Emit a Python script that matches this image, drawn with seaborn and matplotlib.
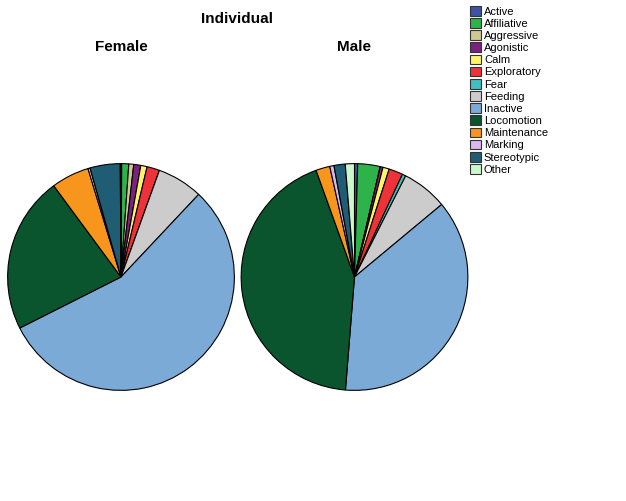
import numpy as np
import pandas as pd
import seaborn as sns
import matplotlib.pyplot as plt
from matplotlib.patches import Patch

sns.set_style("white")
plt.rcParams['font.family'] = ['Liberation Sans', 'DejaVu Sans']
plt.rcParams['text.color'] = 'black'

# behaviour categories (order of the legend / clockwise from 12 o'clock)
behaviours = ['Active', 'Affiliative', 'Aggressive', 'Agonistic', 'Calm', 'Exploratory',
              'Fear', 'Feeding', 'Inactive', 'Locomotion', 'Maintenance', 'Marking',
              'Stereotypic', 'Other']
# percent of time
female = [0.1, 1.0, 0.7, 1.0, 0.9, 1.8, 0.0, 6.5, 55.5, 22.3, 5.4, 0.3, 4.3, 0.1]
male = [0.45, 3.2, 0.0, 0.4, 0.9, 2.0, 0.5, 6.5, 37.3, 43.2, 2.0, 0.6, 1.6, 1.3]
hex_colors = ['#3F51A3', '#2DB34A', '#CFC892', '#7B2180', '#FFF36B', '#EE3239',
              '#3FBFBF', '#CCCCCC', '#7BAAD6', '#0A552D', '#F7951D', '#D9B8EC',
              '#1E5D73', '#CCF7CC']
palette = sns.color_palette(hex_colors)

df = pd.DataFrame({'behaviour': behaviours, 'Female': female, 'Male': male})

fig = plt.figure(figsize=(6.26, 5.01), dpi=100)

W, H = 626, 501
r = 114.5
centers = {'Female': (121, 277), 'Male': (354.5, 277)}
for sex, (cx, cy) in centers.items():
    ax = fig.add_axes([(cx - r) / W, (H - cy - r) / H, 2 * r / W, 2 * r / H])
    ax.pie(df[sex], colors=palette, startangle=90, counterclock=False, radius=1,
           wedgeprops=dict(edgecolor='black', linewidth=0.8))
    ax.set_xlim(-1.01, 1.01)
    ax.set_ylim(-1.01, 1.01)
    ax.set_aspect('equal')
    ax.axis('off')
    fig.text(cx / W, 1 - 47 / H, sex, ha='center', va='center',
             fontsize=11, fontweight='bold', color='black')

fig.text(237 / W, 1 - 19 / H, 'Individual', ha='center', va='center',
         fontsize=11, fontweight='bold', color='black')

handles = [Patch(facecolor=c, edgecolor='#333333', linewidth=0.8) for c in palette]
leg = fig.legend(handles, behaviours, loc='upper left', bbox_to_anchor=(470 / W, 1 - 6 / H),
                 frameon=False, fontsize=8, handlelength=0.95, handleheight=0.95,
                 handletextpad=0.3, labelspacing=0.14, borderpad=0, borderaxespad=0)
for t in leg.get_texts():
    t.set_color('black')

plt.savefig('out.png', dpi=100)
